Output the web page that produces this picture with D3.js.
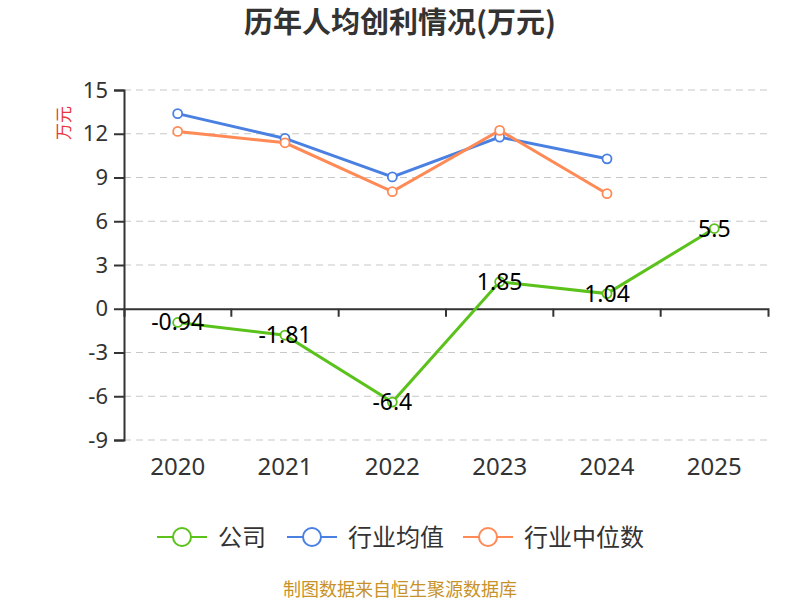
<!DOCTYPE html>
<html>
<head>
<meta charset="utf-8">
<script src="https://cdn.jsdelivr.net/npm/d3@7"></script>
<style>
  body { margin: 0; background: #fff; }
  svg { font-family: "Noto Sans CJK SC", "Noto Sans", sans-serif; }
</style>
</head>
<body>
<div id="chart"></div>
<script>
// data
var years = ["2020", "2021", "2022", "2023", "2024", "2025"];
var company = [-0.94, -1.81, -6.4, 1.85, 1.04, 5.5];
var industryAvg = [13.38, 11.68, 9.04, 11.77, 10.28, null];
var industryMedian = [12.16, 11.38, 8.03, 12.23, 7.89, null];
var yTicks = [-9, -6, -3, 0, 3, 6, 9, 12, 15];

var seriesNames = ["公司", "行业均值", "行业中位数"];
var seriesColors = ["#5bc21c", "#4a80e2", "#ff8a56"];

var width = 800, height = 600;
var margin = {top: 90, right: 32, bottom: 160, left: 124};

var svg = d3.select("#chart").append("svg")
    .attr("width", width)
    .attr("height", height);

// title
svg.append("text")
    .attr("x", 400)
    .attr("y", 33)
    .attr("text-anchor", "middle")
    .attr("font-size", 29)
    .attr("font-weight", "bold")
    .attr("fill", "#333")
    .text("历年人均创利情况(万元)");

var x = d3.scaleBand()
    .domain(years)
    .range([margin.left, width - margin.right]);

var y = d3.scaleLinear()
    .domain([-9, 15])
    .range([height - margin.bottom, margin.top]);

// grid lines
svg.append("g")
    .selectAll("line")
    .data(yTicks.filter(function(d){ return d !== 0; }))
    .enter()
    .append("line")
    .attr("x1", margin.left)
    .attr("x2", width - margin.right)
    .attr("y1", function(d){ return y(d); })
    .attr("y2", function(d){ return y(d); })
    .attr("stroke", "#c8c8c8")
    .attr("stroke-width", 1.2)
    .attr("stroke-dasharray", "7,5");

// y axis (plain hyphen for negatives)
var yAxis = svg.append("g")
    .attr("transform", "translate(" + margin.left + ",0)")
    .call(d3.axisLeft(y).tickValues(yTicks).tickSize(10).tickPadding(6)
        .tickFormat(function(d){ return String(d); }));
yAxis.selectAll("text").attr("font-size", 22).attr("fill", "#333")
    .attr("font-family", "'Noto Sans', sans-serif");
yAxis.selectAll("line, path").attr("stroke", "#333").attr("stroke-width", 2);

// x axis at zero
var xAxis = svg.append("g")
    .attr("transform", "translate(0," + y(0) + ")")
    .call(d3.axisBottom(x).tickSize(8).tickSizeOuter(8).tickFormat(""));
xAxis.selectAll("line, path").attr("stroke", "#333").attr("stroke-width", 2);
// tick marks on band edges
xAxis.selectAll(".tick").remove();
svg.append("g")
    .selectAll("line")
    .data(years.slice(1))
    .enter()
    .append("line")
    .attr("x1", function(d){ return x(d); })
    .attr("x2", function(d){ return x(d); })
    .attr("y1", y(0))
    .attr("y2", y(0) + 8)
    .attr("stroke", "#333")
    .attr("stroke-width", 2);

// x labels at the bottom
svg.append("g")
    .selectAll("text")
    .data(years)
    .enter()
    .append("text")
    .attr("x", function(d){ return x(d) + x.bandwidth() / 2; })
    .attr("y", y(-9) + 35)
    .attr("text-anchor", "middle")
    .attr("font-size", 24)
    .attr("font-family", "'Noto Sans', sans-serif")
    .attr("fill", "#333")
    .text(function(d){ return d; });

// y axis label
svg.append("text")
    .attr("transform", "translate(70,123) rotate(-90)")
    .attr("text-anchor", "middle")
    .attr("font-size", 17)
    .attr("fill", "#e8343a")
    .text("万元");

// lines
var allSeries = [industryAvg, industryMedian, company];
var allColors = [seriesColors[1], seriesColors[2], seriesColors[0]];
var cx = function(i){ return x(years[i]) + x.bandwidth() / 2; };

allSeries.forEach(function(vals, k){
    var pts = vals.map(function(v, i){ return {i: i, v: v}; })
        .filter(function(p){ return p.v !== null; });
    var line = d3.line()
        .x(function(p){ return cx(p.i); })
        .y(function(p){ return y(p.v); });
    svg.append("path")
        .datum(pts)
        .attr("d", line)
        .attr("fill", "none")
        .attr("stroke", allColors[k])
        .attr("stroke-width", 3);
    svg.append("g")
        .selectAll("circle")
        .data(pts)
        .enter()
        .append("circle")
        .attr("cx", function(p){ return cx(p.i); })
        .attr("cy", function(p){ return y(p.v); })
        .attr("r", 4.5)
        .attr("fill", "#fff")
        .attr("stroke", allColors[k])
        .attr("stroke-width", 1.8);
});

// value labels for company
svg.append("g")
    .selectAll("text")
    .data(company)
    .enter()
    .append("text")
    .attr("x", function(d, i){ return cx(i); })
    .attr("y", function(d){ return y(d) + 8; })
    .attr("text-anchor", "middle")
    .attr("font-size", 23)
    .attr("font-family", "'Noto Sans', sans-serif")
    .attr("fill", "#000")
    .text(function(d){ return d; });

// legend
var legendX = [157, 287, 463];
var legend = svg.append("g");
seriesNames.forEach(function(name, k){
    var g = legend.append("g").attr("transform", "translate(" + legendX[k] + ",537)");
    g.append("line")
        .attr("x1", 0).attr("x2", 50)
        .attr("stroke", seriesColors[k])
        .attr("stroke-width", 2);
    g.append("circle")
        .attr("cx", 25).attr("r", 9)
        .attr("fill", "#fff")
        .attr("stroke", seriesColors[k])
        .attr("stroke-width", 2);
    g.append("text")
        .attr("x", 61)
        .attr("y", 9)
        .attr("font-size", 24)
        .attr("fill", "#333")
        .text(name);
});

// footer
svg.append("text")
    .attr("x", 400)
    .attr("y", 596)
    .attr("text-anchor", "middle")
    .attr("font-size", 18)
    .attr("fill", "#c8922a")
    .text("制图数据来自恒生聚源数据库");
</script>
</body>
</html>
